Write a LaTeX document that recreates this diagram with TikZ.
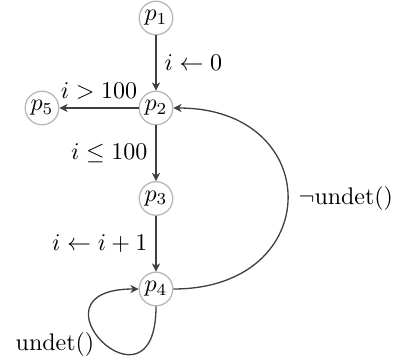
\documentclass[tikz,border=0pt]{standalone}
\usetikzlibrary{arrows.meta}
\definecolor{edgec}{HTML}{404040}
\definecolor{circc}{HTML}{B8B8B8}
\begin{document}
\begin{tikzpicture}[x=0.4167pt,y=-0.4167pt,
  state/.style={circle,draw=circc,line width=0.55pt,minimum size=14pt,inner sep=0pt},
  trans/.style={draw=edgec,line width=0.55pt,-{Stealth[length=3.4pt,width=3.4pt,inset=1pt]}},
  lbl/.style={inner sep=3.33pt}]
\useasboundingbox (0,0) rectangle (396,363);
\node[state] (p1) at (156,18) {$p_1$};
\node[state] (p2) at (156,108) {$p_2$};
\node[state] (p5) at (42,108) {$p_5$};
\node[state] (p3) at (156,198.5) {$p_3$};
\node[state] (p4) at (156,289) {$p_4$};
\draw[trans] (p1) -- node[lbl,right] {$i \leftarrow 0$} (p2);
\draw[trans] (p2) -- node[lbl,above] {$i > 100$} (p5);
\draw[trans] (p2) -- node[lbl,left] {$i \leq 100$} (p3);
\draw[trans] (p3) -- node[lbl,left] {$i \leftarrow i+1$} (p4);
\draw[trans] (p4.east) .. controls +(152,0) and +(152,0) .. node[lbl,right,xshift=1pt] {$\neg\mathrm{undet}()$} (p2.east);
\draw[trans] (p4.south) .. controls +(0,118) and +(-118,0) .. node[lbl,pos=0.5,anchor=east,yshift=-1pt] {$\mathrm{undet}()$} (p4.west);
\end{tikzpicture}
\end{document}
